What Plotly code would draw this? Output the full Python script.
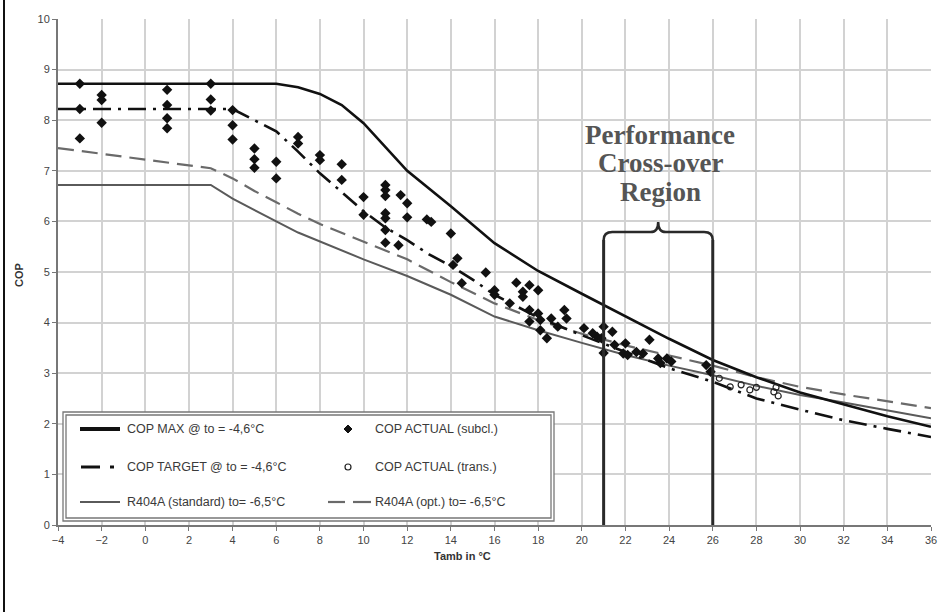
import plotly.graph_objects as go

# ---------------- data ----------------
max_x = [-4, 6, 7, 8, 9, 10, 12, 14, 16, 18, 20, 22, 24, 26, 28, 30, 32, 34, 36]
max_y = [8.72, 8.72, 8.65, 8.52, 8.3, 7.94, 7.0, 6.3, 5.57, 5.02, 4.57, 4.13, 3.68, 3.26, 2.92, 2.62, 2.38, 2.15, 1.94]

target_x = [-4, 4, 5, 6, 7, 8, 9, 10, 11, 12, 13, 14, 15, 16, 18, 20, 22, 24, 26, 28, 30, 32, 34, 36]
target_y = [8.22, 8.22, 8.0, 7.78, 7.38, 6.95, 6.58, 6.2, 5.88, 5.63, 5.35, 5.12, 4.85, 4.55, 4.1, 3.75, 3.42, 3.1, 2.83, 2.5, 2.28, 2.07, 1.9, 1.74]

std_x = [-4, 3, 4, 5, 6, 7, 8, 10, 12, 14, 16, 18, 20, 22, 24, 26, 28, 30, 32, 34, 36]
std_y = [6.72, 6.72, 6.45, 6.22, 6.0, 5.78, 5.6, 5.25, 4.92, 4.55, 4.12, 3.85, 3.6, 3.36, 3.15, 2.96, 2.75, 2.57, 2.42, 2.26, 2.11]

opt_x = [-4, 3, 4, 5, 6, 7, 8, 10, 12, 14, 16, 18, 20, 22, 24, 26, 28, 30, 32, 34, 36]
opt_y = [7.45, 7.05, 6.85, 6.6, 6.38, 6.15, 5.95, 5.6, 5.25, 4.8, 4.38, 4.05, 3.78, 3.55, 3.35, 3.15, 2.92, 2.73, 2.58, 2.44, 2.31]

subcl_x = [-3, -3, -3, -2, -2, -2, 1, 1, 1, 1, 3, 3, 3, 4, 4, 4, 5, 5, 5, 6, 6, 7, 7, 8, 8, 9, 9,
           10, 10, 11, 11, 11, 11, 11, 11, 11, 11.6, 11.7, 12, 12, 12.9, 13.1, 14, 14.3, 14.1, 15.6, 14.5,
           16, 16, 17, 17.6, 17.3, 17.3, 18, 16.7, 17.6, 18, 18.1, 17.6, 18.6, 18.9, 19.2, 19.3, 18.1, 18.4,
           20.1, 20.7, 20.5, 21, 21.4, 20.9, 21.5, 22, 21.9, 22.1, 23.1, 22.5, 22.8, 23.5, 23.9, 24.1, 23.6,
           21, 25.7, 25.9]
subcl_y = [8.72, 8.22, 7.64, 8.5, 8.4, 7.95, 8.6, 8.3, 8.04, 7.84, 8.72, 8.41, 8.19, 8.2, 7.9, 7.62,
           7.44, 7.23, 7.06, 7.18, 6.85, 7.67, 7.54, 7.31, 7.21, 7.13, 6.82,
           6.48, 6.13, 6.72, 6.62, 6.5, 6.16, 6.06, 5.83, 5.58, 5.53, 6.52, 6.36, 6.08, 6.04, 5.99, 5.76, 5.27, 5.14, 4.99, 4.78,
           4.64, 4.55, 4.79, 4.74, 4.61, 4.51, 4.64, 4.38, 4.25, 4.18, 4.05, 4.02, 4.08, 3.92, 4.25, 4.08, 3.85, 3.69,
           3.89, 3.72, 3.79, 3.92, 3.82, 3.69, 3.56, 3.59, 3.39, 3.36, 3.66, 3.42, 3.39, 3.29, 3.29, 3.23, 3.2,
           3.4, 3.16, 3.03]

trans_x = [26.3, 26.8, 27.3, 27.7, 28.0, 28.8, 28.9, 29.0]
trans_y = [2.9, 2.73, 2.77, 2.67, 2.72, 2.63, 2.72, 2.55]

region_x = [21, 26]
region_top = 5.63
region_label = ["Performance", "Cross-over", "Region"]

legend_labels = ["COP MAX @ to = -4,6°C", "COP TARGET @ to = -4,6°C", "R404A (standard) to= -6,5°C",
                 "COP ACTUAL (subcl.)", "COP ACTUAL (trans.)", "R404A (opt.) to= -6,5°C"]

x_ticks = list(range(-4, 37, 2))
y_ticks = list(range(0, 11, 1))

# ---------------- layout helpers ----------------
W, H = 938, 612
L, R, T, B = 58, 7, 19, 87
PW, PH = W - L - R, H - T - B


def px(x):
    return (x - L) / PW


def py(y):
    return (H - B - y) / PH


fig = go.Figure()

fig.add_trace(go.Scatter(x=std_x, y=std_y, mode="lines", line=dict(color="#5a5a5a", width=2), showlegend=False))
fig.add_trace(go.Scatter(x=opt_x, y=opt_y, mode="lines",
                         line=dict(color="#6a6a6a", width=2.2, dash="16px,8px"), showlegend=False))
fig.add_trace(go.Scatter(x=max_x, y=max_y, mode="lines", line=dict(color="#111", width=2.6), showlegend=False))
fig.add_trace(go.Scatter(x=target_x, y=target_y, mode="lines",
                         line=dict(color="#111", width=2.6, dash="18px,7px,3px,7px"), showlegend=False))
fig.add_trace(go.Scatter(x=subcl_x, y=subcl_y, mode="markers",
                         marker=dict(symbol="diamond", size=8, color="#111"), showlegend=False))
fig.add_trace(go.Scatter(x=trans_x, y=trans_y, mode="markers",
                         marker=dict(symbol="circle-open", size=6, color="#222", line=dict(width=1.2)),
                         showlegend=False))

shapes = []
for xv in region_x:
    shapes.append(dict(type="line", xref="x", yref="y", x0=xv, x1=xv, y0=0, y1=region_top,
                       line=dict(color="#2a2a2a", width=3)))
x0, x1 = region_x
xm = (x0 + x1) / 2
yb = region_top + 0.16
yp = region_top + 0.36
brace = (f"M {x0},{region_top} Q {x0},{yb} {x0+0.4},{yb} L {xm-0.35},{yb} "
         f"Q {xm},{yb} {xm},{yp} Q {xm},{yb} {xm+0.35},{yb} L {x1-0.4},{yb} Q {x1},{yb} {x1},{region_top}")
shapes.append(dict(type="path", xref="x", yref="y", path=brace, line=dict(color="#2a2a2a", width=2.5)))

shapes.append(dict(type="rect", xref="paper", yref="paper", x0=px(63), x1=px(554), y0=py(521), y1=py(412),
                   line=dict(color="#777", width=1.3), fillcolor="white", layer="above"))
shapes.append(dict(type="rect", xref="paper", yref="paper", x0=px(66), x1=px(551), y0=py(518), y1=py(415),
                   line=dict(color="#777", width=1.3), layer="above"))
rows = [429, 467, 502]
shapes.append(dict(type="line", xref="paper", yref="paper", x0=px(80), x1=px(120), y0=py(rows[0]), y1=py(rows[0]),
                   line=dict(color="#111", width=4), layer="above"))
shapes.append(dict(type="line", xref="paper", yref="paper", x0=px(81), x1=px(100), y0=py(rows[1]), y1=py(rows[1]),
                   line=dict(color="#111", width=3), layer="above"))
shapes.append(dict(type="line", xref="paper", yref="paper", x0=px(110), x1=px(114), y0=py(rows[1]), y1=py(rows[1]),
                   line=dict(color="#111", width=3), layer="above"))
shapes.append(dict(type="line", xref="paper", yref="paper", x0=px(80), x1=px(120), y0=py(rows[2]), y1=py(rows[2]),
                   line=dict(color="#5a5a5a", width=2), layer="above"))
shapes.append(dict(type="path", xref="paper", yref="paper", layer="above",
                   path=f"M {px(348)},{py(rows[0]-4)} L {px(352)},{py(rows[0])} L {px(348)},{py(rows[0]+4)} L {px(344)},{py(rows[0])} Z",
                   fillcolor="#111", line=dict(color="#111", width=1)))
shapes.append(dict(type="circle", xref="paper", yref="paper", layer="above",
                   x0=px(345), x1=px(351), y0=py(rows[1] + 3), y1=py(rows[1] - 3),
                   line=dict(color="#222", width=1.2), fillcolor="white"))
for a, b in [(328, 345), (353, 371)]:
    shapes.append(dict(type="line", xref="paper", yref="paper", x0=px(a), x1=px(b), y0=py(rows[2]), y1=py(rows[2]),
                       line=dict(color="#6a6a6a", width=2.2), layer="above"))
shapes.append(dict(type="line", xref="paper", yref="paper", x0=px(4), x1=px(4), y0=py(612), y1=py(0),
                   line=dict(color="#111", width=2)))

annotations = []
lf = dict(family="Liberation Sans, Arial", size=12.5, color="#3a3a3a")
for i, lab in enumerate(legend_labels):
    xp = 125 if i < 3 else 373
    annotations.append(dict(xref="paper", yref="paper", x=px(xp), y=py(rows[i % 3]), text=lab, showarrow=False,
                            xanchor="left", yanchor="middle", font=lf))
for lab, yy in zip(region_label, [135, 163, 192]):
    annotations.append(dict(xref="paper", yref="paper", x=px(660), y=py(yy), text=f"<b>{lab}</b>", showarrow=False,
                            xanchor="center", yanchor="middle",
                            font=dict(family="Liberation Serif, Times New Roman", size=27, color="#555")))
annotations.append(dict(xref="paper", yref="paper", x=px(19), y=py(275), text="<b>COP</b>", textangle=-90,
                        showarrow=False, xanchor="center", yanchor="middle",
                        font=dict(family="Liberation Sans, Arial", size=11, color="#333")))
annotations.append(dict(xref="paper", yref="paper", x=px(462), y=py(556), text="<b>Tamb in °C</b>",
                        showarrow=False, xanchor="center", yanchor="middle",
                        font=dict(family="Liberation Sans, Arial", size=11, color="#333")))

axis_common = dict(showgrid=True, gridcolor="#d2d2d2", gridwidth=1.5, zeroline=False, automargin=False,
                   showline=True, linecolor="#777", linewidth=2, ticks="outside", ticklen=4,
                   tickcolor="#777", tickfont=dict(family="Liberation Sans, Arial", size=11, color="#444"))

fig.update_layout(
    width=W, height=H, margin=dict(l=L, r=R, t=T, b=B, autoexpand=False),
    paper_bgcolor="white", plot_bgcolor="white",
    xaxis=dict(range=[-4, 36], tickvals=x_ticks, **axis_common),
    yaxis=dict(range=[0, 10], tickvals=y_ticks, **axis_common),
    shapes=shapes, annotations=annotations, showlegend=False,
)

fig.write_html("out.html", config={"displayModeBar": False},
               post_script="document.body.style.margin='0';document.body.style.overflow='hidden';")
